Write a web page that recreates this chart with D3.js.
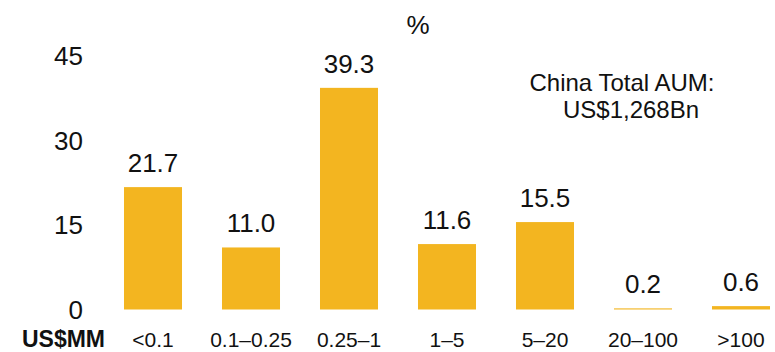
<!DOCTYPE html>
<html lang="en">
<head>
<meta charset="utf-8">
<title>China AUM by ticket size</title>
<script src="https://d3js.org/d3.v7.min.js"></script>
<style>
  body { margin: 0; background: #fff; }
  svg text { font-family: "Liberation Sans", Arial, sans-serif; fill: #111; }
  .big { font-size: 26px; }
  .note { font-size: 24px; }
  .cat { font-size: 21px; }
  .unit { font-size: 23px; font-weight: bold; }
</style>
</head>
<body>
<svg width="775" height="352"></svg>
<script>
var categories = ["<0.1", "0.1\u20130.25", "0.25\u20131", "1\u20135", "5\u201320", "20\u2013100", ">100"];
var shares = [21.7, 11.0, 39.3, 11.6, 15.5, 0.2, 0.6];
var yTicks = [0, 15, 30, 45];
var unitLabel = "US$MM";
var axisTitle = "%";
var noteLines = ["China Total AUM:", "US$1,268Bn"];

var svg = d3.select("svg");
var baseY = 309.5;

var x = d3.scaleBand()
  .domain(categories)
  .range([104, 790])
  .paddingInner(0.408)
  .paddingOuter(0.204);

var y = d3.scaleLinear()
  .domain([0, 45])
  .range([baseY, baseY - 45 * 5.64]);

// y tick labels (no axis line)
svg.append("g").selectAll("text")
  .data(yTicks)
  .join("text")
  .attr("class", "big")
  .attr("x", 83)
  .attr("y", d => y(d))
  .attr("dy", "0.36em")
  .attr("text-anchor", "end")
  .text(d => d);

// bars
svg.append("g").selectAll("rect")
  .data(shares)
  .join("rect")
  .attr("x", (d, i) => x(categories[i]))
  .attr("width", x.bandwidth())
  .attr("y", d => y(d))
  .attr("height", d => baseY - y(d))
  .attr("fill", "#F3B520");

// value labels
svg.append("g").selectAll("text")
  .data(shares)
  .join("text")
  .attr("class", "big")
  .attr("x", (d, i) => x(categories[i]) + x.bandwidth() / 2)
  .attr("y", d => y(d) - 15)
  .attr("text-anchor", "middle")
  .text(d => d.toFixed(1));

// category labels
svg.append("g").selectAll("text")
  .data(categories)
  .join("text")
  .attr("class", "cat")
  .attr("x", d => x(d) + x.bandwidth() / 2)
  .attr("y", 347)
  .attr("text-anchor", "middle")
  .text(d => d);

svg.append("text")
  .attr("class", "unit")
  .attr("x", 105)
  .attr("y", 347)
  .attr("text-anchor", "end")
  .text(unitLabel);

svg.append("text")
  .attr("class", "big")
  .attr("x", 418)
  .attr("y", 34)
  .attr("text-anchor", "middle")
  .text(axisTitle);

svg.append("text")
  .attr("class", "note")
  .attr("x", 622)
  .attr("y", 91)
  .attr("text-anchor", "middle")
  .text(noteLines[0]);

svg.append("text")
  .attr("class", "note")
  .attr("x", 631)
  .attr("y", 118)
  .attr("text-anchor", "middle")
  .text(noteLines[1]);
</script>
</body>
</html>
